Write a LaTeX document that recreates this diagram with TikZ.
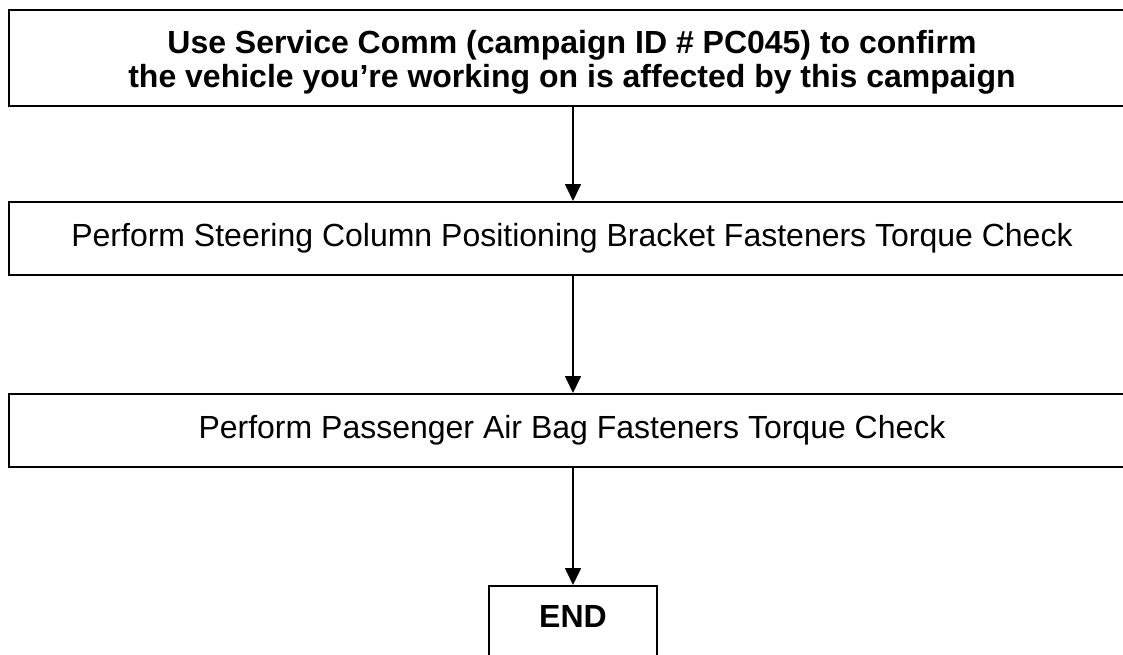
\documentclass[tikz,border=0pt]{standalone}
\usepackage{fontspec}
\setmainfont{Liberation Sans}
\usetikzlibrary{arrows.meta}

\begin{document}
\begin{tikzpicture}[x=1pt,y=-1pt,
		box/.style={draw, line width=2pt, inner sep=0pt, align=center, minimum width=1126pt},
		flow/.style={line width=1.6pt, -{Triangle[length=17pt,width=16pt]}}]
		\useasboundingbox (0,0) rectangle (1123,654);

		%% steps
		\node[box, minimum height=96pt, font=\fontsize{32}{28}\bfseries\selectfont] at (572,58)(confirm){\rule{0pt}{35pt}Use Service Comm (campaign ID \# PC045) to confirm\\[3pt]the vehicle you’re working on is affected by this campaign\rule[-10pt]{0pt}{10pt}};

		\node[box, minimum height=73pt, font=\fontsize{32}{36}\selectfont] at (572,238.5)(steering){Perform Steering Column Positioning Bracket Fasteners Torque Check};

		\node[box, minimum height=73pt, font=\fontsize{32}{36}\selectfont] at (572,430.5)(airbag){Perform Passenger Air Bag Fasteners Torque Check};

		%% end
		\node[draw, line width=2pt, inner sep=0pt, minimum width=168pt, text height=41pt, text depth=45pt, anchor=north, font=\fontsize{32}{36}\bfseries\selectfont] at (573,585)(end){END};

		\path[flow] (confirm.south-|end) edge (steering.north-|end)
			(steering.south-|end) edge (airbag.north-|end)
			(airbag.south-|end) edge (end.north);
\end{tikzpicture}
\end{document}
